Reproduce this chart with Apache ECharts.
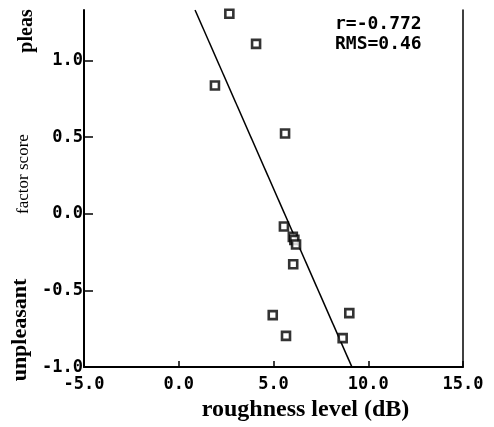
<!DOCTYPE html>
<html>
<head>
<meta charset="utf-8">
<script src="https://cdn.jsdelivr.net/npm/echarts@6/dist/echarts.min.js"></script>
<style>
html,body{margin:0;padding:0;background:#fff;}
#chart{width:494px;height:427px;}
</style>
</head>
<body>
<div id="chart"></div>
<script>
// roughness level (dB) vs factor score
var roughness = [2.67, 4.08, 1.91, 5.61, 5.55, 6.02, 6.10, 6.19, 6.04, 4.96, 9.00, 5.66, 8.65];
var factorScore = [1.306, 1.109, 0.837, 0.524, -0.083, -0.15, -0.17, -0.20, -0.329, -0.661, -0.648, -0.796, -0.811];
// regression line end points
var fitX = [0.86, 9.14];
var fitY = [1.33, -1.0];
var xTicks = [-5, 0, 5, 10, 15];
var yTicks = [-1.0, -0.5, 0.0, 0.5, 1.0];
var statsLines = ['r=-0.772', 'RMS=0.46'];
var xTitle = 'roughness level (dB)';
var yTitleTop = 'pleas';
var yTitleMid = 'factor score';
var yTitleBottom = 'unpleasant';

var pts = roughness.map(function (x, i) { return [x, factorScore[i]]; });
var fit = fitX.map(function (x, i) { return [x, fitY[i]]; });

var chart = echarts.init(document.getElementById('chart'), null, {renderer: 'canvas'});
var monoLabel = {
  fontFamily: 'DejaVu Sans Mono', fontWeight: 'bold', fontSize: 17, color: '#000'
};
function fmt(v) {
  for (var i = 0; i < xTicks.length; i++) if (Math.abs(v - xTicks[i]) < 1e-6) return v.toFixed(1);
  return '';
}
function fmtY(v) {
  for (var i = 0; i < yTicks.length; i++) if (Math.abs(v - yTicks[i]) < 1e-6) return v.toFixed(1);
  return '';
}
chart.setOption({
  animation: false,
  backgroundColor: '#fff',
  grid: {left: 84, right: 31, top: 10, bottom: 59},
  xAxis: {
    type: 'value', min: -5, max: 15, interval: 5,
    name: xTitle, nameLocation: 'middle', nameGap: 28,
    nameTextStyle: {fontFamily: 'Liberation Serif', fontWeight: 'bold', fontSize: 24, color: '#000', padding: [0, 0, 0, 64]},
    axisLine: {onZero: false, lineStyle: {color: '#000', width: 2}},
    axisTick: {inside: true, length: 6, lineStyle: {color: '#000', width: 1.5}},
    axisLabel: Object.assign({margin: 9, formatter: fmt}, monoLabel),
    splitLine: {show: false}
  },
  yAxis: [{
    type: 'value', min: -1, max: 1.33, interval: 0.5,
    axisLine: {onZero: false, lineStyle: {color: '#000', width: 2}},
    axisTick: {inside: true, length: 9, lineStyle: {color: '#000', width: 1.5}},
    axisLabel: Object.assign({margin: 1, formatter: fmtY, showMaxLabel: false}, monoLabel),
    splitLine: {show: false}
  }, {
    type: 'value', min: -1, max: 1.33, interval: 0.5, position: 'right',
    axisLine: {show: true, onZero: false, lineStyle: {color: '#000', width: 1.5}},
    axisTick: {show: false}, axisLabel: {show: false}, splitLine: {show: false}
  }],
  series: [{
    type: 'line', data: fit, showSymbol: false, symbol: 'none',
    lineStyle: {color: '#000', width: 1.5}, silent: true, z: 2
  }, {
    type: 'scatter', data: pts, symbol: 'rect', symbolSize: 8,
    itemStyle: {color: '#fff', borderColor: '#000', borderWidth: 2.6}, z: 3
  }],
  graphic: [
    {type: 'text', x: 335, y: 24, style: {text: statsLines[0], fontFamily: 'DejaVu Sans Mono', fontWeight: 'bold', fontSize: 18, fill: '#000', verticalAlign: 'middle', align: 'left'}},
    {type: 'text', x: 335, y: 44, style: {text: statsLines[1], fontFamily: 'DejaVu Sans Mono', fontWeight: 'bold', fontSize: 18, fill: '#000', verticalAlign: 'middle', align: 'left'}},
    {type: 'text', x: 27, y: 31, rotation: Math.PI / 2, style: {text: yTitleTop, fontFamily: 'Liberation Serif', fontWeight: 'bold', fontSize: 20, fill: '#000', align: 'center', verticalAlign: 'middle'}},
    {type: 'text', x: 24, y: 174, rotation: Math.PI / 2, style: {text: yTitleMid, fontFamily: 'Liberation Serif', fontSize: 17, fill: '#000', align: 'center', verticalAlign: 'middle'}},
    {type: 'text', x: 20, y: 330, rotation: Math.PI / 2, style: {text: yTitleBottom, fontFamily: 'Liberation Serif', fontWeight: 'bold', fontSize: 22, fill: '#000', align: 'center', verticalAlign: 'middle'}}
  ]
});
</script>
</body>
</html>
